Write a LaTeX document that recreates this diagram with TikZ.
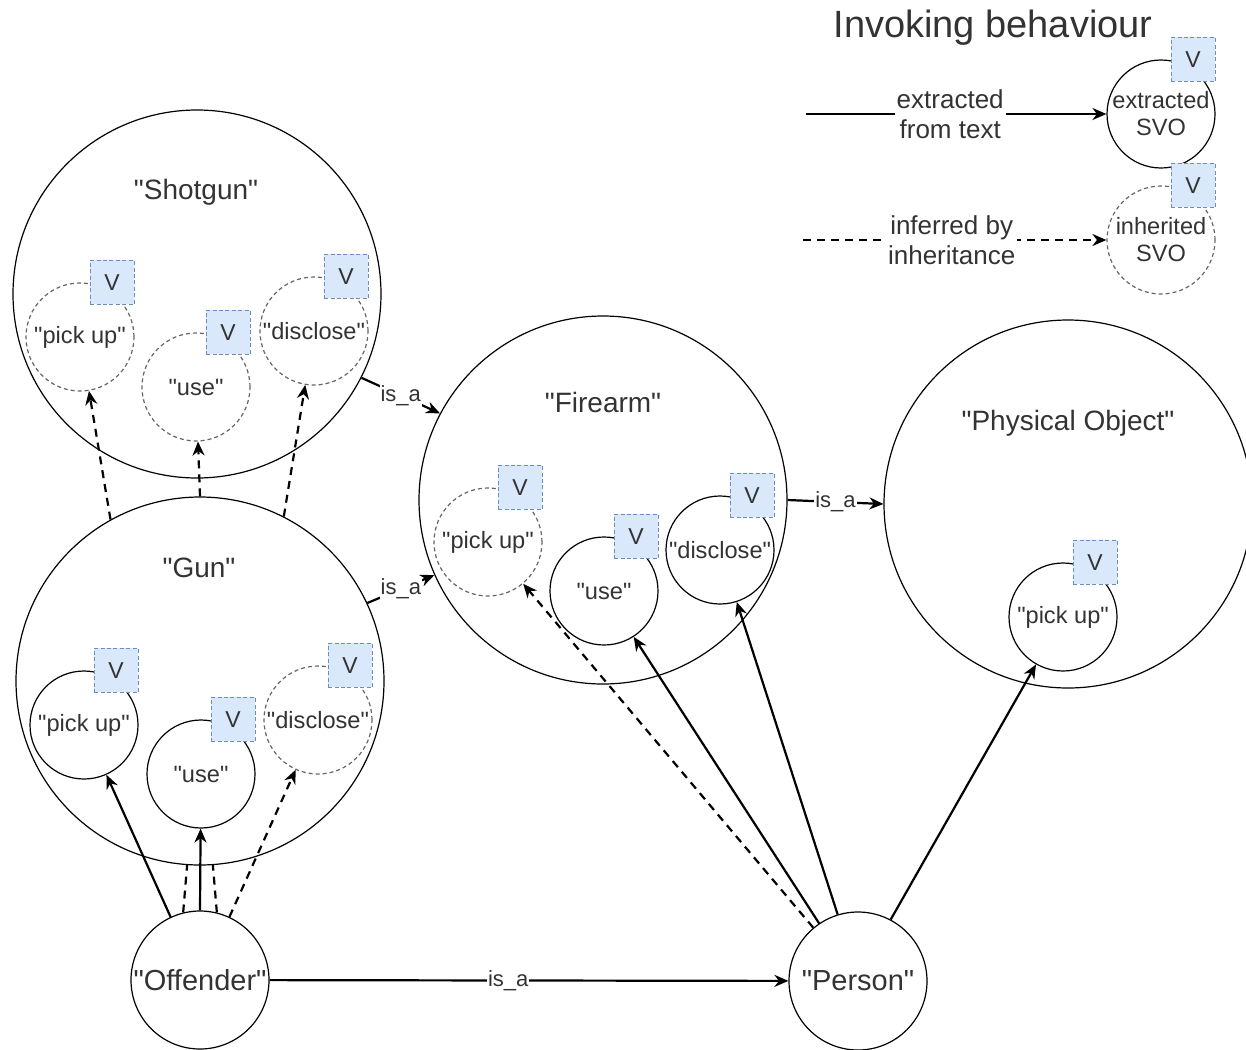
\documentclass[tikz,border=0pt]{standalone}
\usepackage{fontspec}
\setmainfont{Liberation Sans}[Ligatures=TeXOff]
\usepackage{xcolor}
\definecolor{textGrey}{RGB}{51, 51, 51}
\definecolor{dashGrey}{RGB}{102, 102, 102}
\definecolor{vFill}{RGB}{218, 232, 252}
\definecolor{vBorder}{RGB}{108, 142, 191}
\usepackage{tikz}
\usetikzlibrary{positioning,arrows.meta}

\tikzset{
  concept/.style={circle, draw, line width=0.6pt, minimum size=184pt, inner sep=0pt},
  conceptLabel/.style={text=textGrey, font=\fontsize{14}{16}\selectfont},
  entity/.style={circle, draw, line width=0.6pt, minimum size=69pt, inner sep=0pt, text=textGrey, font=\fontsize{14.5}{16}\selectfont},
  svo/.style={circle, draw, line width=0.6pt, minimum size=54pt, inner sep=0pt, text=textGrey, font=\fontsize{11.8}{13.5}\selectfont, align=center},
  svoInh/.style={svo, draw=dashGrey, dash pattern=on 2pt off 1.5pt},
  vBox/.style={draw=vBorder, fill=vFill, dash pattern=on 2pt off 1.2pt, line width=0.5pt, minimum size=22pt, inner sep=0pt, anchor=east, text=textGrey, font=\fontsize{11.5}{13}\selectfont},
  extracted/.style={line width=1.1pt, -{Stealth[length=7pt,width=6pt]}},
  inferred/.style={extracted, dash pattern=on 4pt off 3pt},
  inferredLine/.style={line width=1.1pt, dash pattern=on 4pt off 3pt},
  isALabel/.style={fill=white, inner sep=0.5pt, text=textGrey, font=\fontsize{11}{12}\selectfont},
  legendLabel/.style={fill=white, inner sep=1pt, align=center, text=textGrey, font=\fontsize{13}{15}\selectfont}
}

\begin{document}
\begin{tikzpicture}[x=0.5pt, y=-0.5pt]
\useasboundingbox (0,0) rectangle (1246,1049);

% concepts
\node[concept] (sg) at (197,294) {};
\node[conceptLabel] (sgLabel) at (196,192) {"Shotgun"};
\node[concept] (gun) at (200,681) {};
\node[conceptLabel] (gunLabel) at (199,568) {"Gun"};
\node[concept] (fi) at (603,500) {};
\node[conceptLabel] (fiLabel) at (603,402) {"Firearm"};
\node[concept] (po) at (1068,504) {};
\node[conceptLabel] (poLabel) at (1068,423) {"Physical Object"};

% behaviours
\node[svoInh] (sgPick) at (80,337) {"pick up"};
\node[svoInh] (sgUse) at (196,387) {"use"};
\node[svoInh] (sgDisc) at (314,331) {"disclose"};
\node[svo] (gunPick) at (84,725) {"pick up"};
\node[svo] (gunUse) at (201,774) {"use"};
\node[svoInh] (gunDisc) at (318,720) {"disclose"};
\node[svoInh] (fiPick) at (488,542) {"pick up"};
\node[svo] (fiUse) at (604,591) {"use"};
\node[svo] (fiDisc) at (720,550) {"disclose"};
\node[svo] (poPick) at (1063,617) {"pick up"};

\node[vBox] (sgPickV) at (sgPick.north -| sgPick.east) {V};
\node[vBox] (sgUseV) at (sgUse.north -| sgUse.east) {V};
\node[vBox] (sgDiscV) at (sgDisc.north -| sgDisc.east) {V};
\node[vBox] (gunPickV) at (gunPick.north -| gunPick.east) {V};
\node[vBox] (gunUseV) at (gunUse.north -| gunUse.east) {V};
\node[vBox] (gunDiscV) at (gunDisc.north -| gunDisc.east) {V};
\node[vBox] (fiPickV) at (fiPick.north -| fiPick.east) {V};
\node[vBox] (fiUseV) at (fiUse.north -| fiUse.east) {V};
\node[vBox] (fiDiscV) at (fiDisc.north -| fiDisc.east) {V};
\node[vBox] (poPickV) at (poPick.north -| poPick.east) {V};

% subjects
\node[entity] (off) at (200,980) {"Offender"};
\node[entity] (per) at (858,981) {"Person"};

% is_a
\draw[extracted] (sg.-27) -- node[isALabel] (isA1) {is\_a} (fi.152);
\draw[extracted] (gun.25) -- node[isALabel] (isA2) {is\_a} (fi.204);
\draw[extracted] (fi.east) -- node[isALabel] (isA3) {is\_a} (po.west);
\draw[extracted] (off) -- node[isALabel, pos=0.46] (isA4) {is\_a} (per);

% invocations
\draw[inferred] (gun.119) -- (sgPick);
\draw[inferred] (gun.90) -- (sgUse);
\draw[inferred] (gun.63) -- (sgDisc);
\draw[extracted] (off.115) -- (gunPick);
\draw[extracted] (off.90) -- (gunUse);
\draw[inferred] (off.65) -- (gunDisc);
\draw[inferredLine] (off.104) -- (gun.266);
\draw[inferredLine] (off.76) -- (gun.274);
\draw[inferred] (per.130) -- (fiPick);
\draw[extracted] (per.124) -- (fiUse);
\draw[extracted] (per.107) -- (fiDisc);
\draw[extracted] (per.62) -- (poPick);

% legend
\node[text=textGrey, font=\fontsize{19}{22}\selectfont] (legendTitle) at (993,28) {Invoking behaviour};
\node[svo] (lgExt) at (1161,114) {extracted\\SVO};
\node[vBox] (lgExtV) at (lgExt.north -| lgExt.east) {V};
\node[svoInh] (lgInh) at (1161,240) {inherited\\SVO};
\node[vBox] (lgInhV) at (lgInh.north -| lgInh.east) {V};
\coordinate (lgExtStart) at (806,114);
\coordinate (lgInhStart) at (803,240);
\draw[extracted] (lgExtStart) -- node[legendLabel, pos=0.48] (lgExtLabel) {extracted\\from text} (lgExt);
\draw[inferred] (lgInhStart) -- node[legendLabel, pos=0.49] (lgInhLabel) {inferred by\\inheritance} (lgInh);
\end{tikzpicture}
\end{document}
